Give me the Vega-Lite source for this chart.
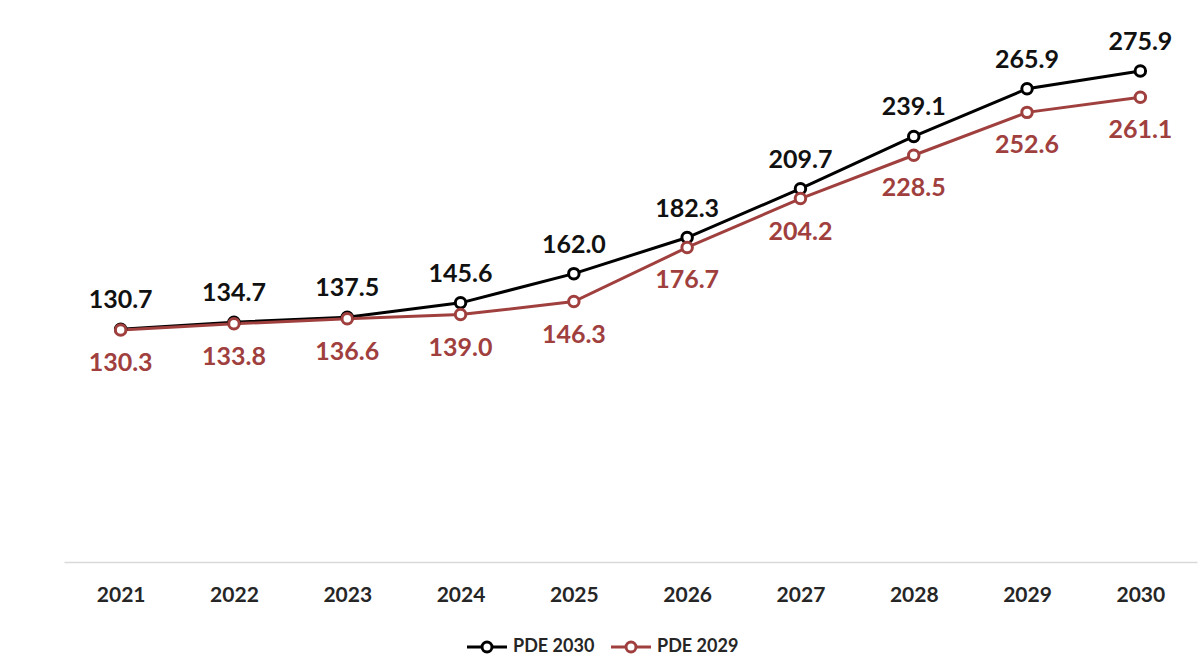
{
  "$schema": "https://vega.github.io/schema/vega-lite/v6.json",
  "width": 1133,
  "height": 534,
  "autosize": {"type": "none"},
  "padding": {"left": 64, "right": 3, "top": 28, "bottom": 103},
  "background": "white",
  "config": {"view": {"stroke": null}, "font": "Lato"},
  "data": {
    "values": [
      {"year": "2021", "series": "PDE 2030", "value": 130.7},
      {"year": "2022", "series": "PDE 2030", "value": 134.7},
      {"year": "2023", "series": "PDE 2030", "value": 137.5},
      {"year": "2024", "series": "PDE 2030", "value": 145.6},
      {"year": "2025", "series": "PDE 2030", "value": 162.0},
      {"year": "2026", "series": "PDE 2030", "value": 182.3},
      {"year": "2027", "series": "PDE 2030", "value": 209.7},
      {"year": "2028", "series": "PDE 2030", "value": 239.1},
      {"year": "2029", "series": "PDE 2030", "value": 265.9},
      {"year": "2030", "series": "PDE 2030", "value": 275.9},
      {"year": "2021", "series": "PDE 2029", "value": 130.3},
      {"year": "2022", "series": "PDE 2029", "value": 133.8},
      {"year": "2023", "series": "PDE 2029", "value": 136.6},
      {"year": "2024", "series": "PDE 2029", "value": 139.0},
      {"year": "2025", "series": "PDE 2029", "value": 146.3},
      {"year": "2026", "series": "PDE 2029", "value": 176.7},
      {"year": "2027", "series": "PDE 2029", "value": 204.2},
      {"year": "2028", "series": "PDE 2029", "value": 228.5},
      {"year": "2029", "series": "PDE 2029", "value": 252.6},
      {"year": "2030", "series": "PDE 2029", "value": 261.1}
    ]
  },
  "encoding": {
    "x": {
      "field": "year", "type": "ordinal",
      "scale": {"paddingInner": 0, "paddingOuter": 0.5},
      "axis": {
        "title": null, "labelAngle": 0, "ticks": false,
        "labelFont": "Lato", "labelFontSize": 21, "labelFontWeight": "bold", "labelColor": "#262626",
        "labelPadding": 22, "domainColor": "#d9d9d9", "domainWidth": 1.5, "grid": false
      }
    },
    "y": {
      "field": "value", "type": "quantitative",
      "scale": {"domain": [0, 300], "nice": false, "zero": true},
      "axis": null
    }
  },
  "layer": [
    {
      "mark": {"type": "line", "strokeWidth": 3},
      "encoding": {
        "stroke": {
          "field": "series", "type": "nominal",
          "scale": {"domain": ["PDE 2030", "PDE 2029"], "range": ["#000000", "#a0403e"]},
          "legend": {
            "title": null, "orient": "none", "direction": "horizontal", "legendX": 399, "legendY": 610,
            "labelFont": "Lato", "labelFontSize": 18, "labelFontWeight": "bold", "labelColor": "#262626",
            "symbolType": "M-4,0H-1M1,0H4M-1,0A1,1,0,1,1,1,0A1,1,0,1,1,-1,0",
            "symbolSize": 100, "symbolStrokeWidth": 3, "symbolOpacity": 1,
            "symbolOffset": 15, "labelOffset": 17, "columnPadding": 10
          }
        }
      }
    },
    {
      "mark": {"type": "point", "filled": true, "size": 110, "strokeWidth": 3, "opacity": 1},
      "encoding": {
        "stroke": {"field": "series", "type": "nominal"},
        "fill": {
          "field": "series", "type": "nominal",
          "scale": {"domain": ["PDE 2030", "PDE 2029"], "range": ["white", "white"]},
          "legend": {
            "title": null, "orient": "none", "direction": "horizontal", "legendX": 399, "legendY": 610,
            "labelFont": "Lato", "labelFontSize": 18, "labelFontWeight": "bold", "labelColor": "#262626",
            "symbolType": "M-4,0H-1M1,0H4M-1,0A1,1,0,1,1,1,0A1,1,0,1,1,-1,0",
            "symbolSize": 100, "symbolStrokeWidth": 3, "symbolOpacity": 1,
            "symbolOffset": 15, "labelOffset": 17, "columnPadding": 10
          }
        }
      }
    },
    {
      "transform": [{"filter": "datum.series === 'PDE 2030'"}],
      "mark": {"type": "text", "dy": -29, "fontSize": 25, "fontWeight": "bold", "font": "Lato", "color": "#111111"},
      "encoding": {"text": {"field": "value", "type": "quantitative", "format": ".1f"}}
    },
    {
      "transform": [{"filter": "datum.series === 'PDE 2029'"}],
      "mark": {"type": "text", "dy": 33, "fontSize": 25, "fontWeight": "bold", "font": "Lato", "color": "#a0403e"},
      "encoding": {"text": {"field": "value", "type": "quantitative", "format": ".1f"}}
    }
  ]
}
